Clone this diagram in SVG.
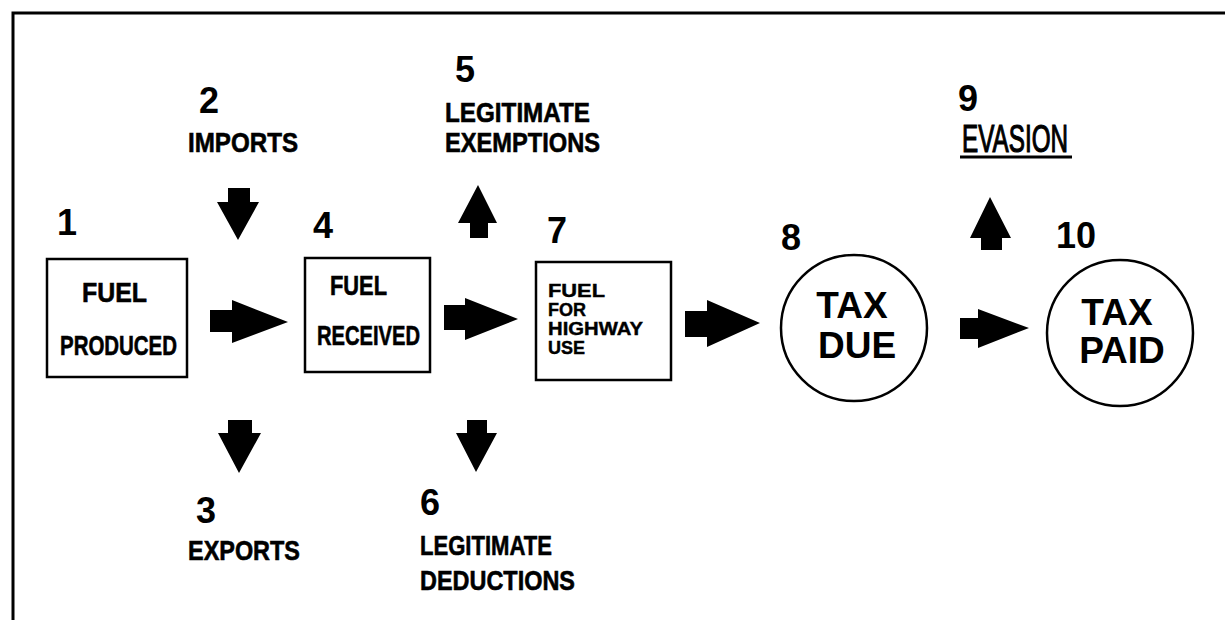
<svg xmlns="http://www.w3.org/2000/svg" width="1225" height="620" viewBox="0 0 1225 620">
<style>
  text { font-family: "Liberation Sans", Arial, sans-serif; fill: #000; }
  .num { font-size: 36px; font-weight: bold; text-anchor: middle; }
  .lbl { font-size: 28px; font-weight: bold; stroke: #000; stroke-width: 0.6; }
  .box { fill: #fff; stroke: #000; stroke-width: 2.5; }
  .circ { fill: #fff; stroke: #000; stroke-width: 2.5; }
  .arr { fill: #000; stroke: none; }
  .in { font-size: 28px; font-weight: bold; stroke: #000; stroke-width: 0.6; }
  .sm { font-size: 18px; font-weight: bold; stroke: #000; stroke-width: 0.4; }
  .big { font-size: 37px; font-weight: bold; text-anchor: middle; }
  .frame { stroke: #000; stroke-width: 3; fill: none; }
</style>
<rect x="0" y="0" width="1225" height="620" fill="#fff"/>
<path class="frame" d="M13,620 V13 H1225"/>

<g id="n1">
  <text class="num" x="67" y="235">1</text>
  <rect class="box" x="47" y="259" width="140" height="118"/>
  <text class="in" x="82" y="302" textLength="65" lengthAdjust="spacingAndGlyphs">FUEL</text>
  <text class="in" x="60" y="355" textLength="117" lengthAdjust="spacingAndGlyphs">PRODUCED</text>
</g>
<g id="n2">
  <text class="num" x="209" y="113">2</text>
  <text class="lbl" x="188" y="152" textLength="110" lengthAdjust="spacingAndGlyphs">IMPORTS</text>
</g>
<g id="n3">
  <text class="num" x="206" y="523">3</text>
  <text class="lbl" x="188" y="560" textLength="112" lengthAdjust="spacingAndGlyphs">EXPORTS</text>
</g>
<g id="n4">
  <text class="num" x="323" y="238">4</text>
  <rect class="box" x="305" y="258" width="125" height="114"/>
  <text class="in" x="330" y="295" font-size="25" textLength="57" lengthAdjust="spacingAndGlyphs">FUEL</text>
  <text class="in" x="317" y="345" textLength="103" lengthAdjust="spacingAndGlyphs">RECEIVED</text>
</g>
<g id="n5">
  <text class="num" x="465" y="82">5</text>
  <text class="lbl" x="445" y="122" textLength="145" lengthAdjust="spacingAndGlyphs">LEGITIMATE</text>
  <text class="lbl" x="445" y="152" textLength="155" lengthAdjust="spacingAndGlyphs">EXEMPTIONS</text>
</g>
<g id="n6">
  <text class="num" x="430" y="515">6</text>
  <text class="lbl" x="420" y="555" textLength="132" lengthAdjust="spacingAndGlyphs">LEGITIMATE</text>
  <text class="lbl" x="420" y="590" textLength="155" lengthAdjust="spacingAndGlyphs">DEDUCTIONS</text>
</g>
<g id="n7">
  <text class="num" x="557" y="243">7</text>
  <rect class="box" x="536" y="262" width="135" height="118"/>
  <text class="sm" x="548" y="297" textLength="57" lengthAdjust="spacingAndGlyphs">FUEL</text>
  <text class="sm" x="548" y="316">FOR</text>
  <text class="sm" x="548" y="335" textLength="95" lengthAdjust="spacingAndGlyphs">HIGHWAY</text>
  <text class="sm" x="548" y="354">USE</text>
</g>
<g id="n8">
  <text class="num" x="791" y="250">8</text>
  <circle class="circ" cx="854" cy="328" r="73"/>
  <text class="big" x="852" y="318">TAX</text>
  <text class="big" x="857" y="358">DUE</text>
</g>
<g id="n9">
  <text class="num" x="968" y="111">9</text>
  <text x="962" y="152" font-size="38" stroke="#000" stroke-width="1.2" textLength="106" lengthAdjust="spacingAndGlyphs">EVASION</text>
  <line x1="960" y1="157" x2="1072" y2="157" stroke="#000" stroke-width="3"/>
</g>
<g id="n10">
  <text class="num" x="1076" y="248">10</text>
  <circle class="circ" cx="1120" cy="333" r="73"/>
  <text class="big" x="1117" y="325">TAX</text>
  <text class="big" x="1122" y="363">PAID</text>
</g>

<g id="connectors">
  <polygon class="arr" points="210,310 232,310 232,300 288,322 232,343 232,332 210,332"/>
  <polygon class="arr" points="444,305 465,305 465,298 518,319 465,340 465,330 444,330"/>
  <polygon class="arr" points="685,311 707,311 707,300 760,323 707,347 707,337 685,337"/>
  <polygon class="arr" points="960,318 978,318 978,309 1029,328 978,348 978,339 960,339"/>
  <polygon class="arr" points="228,188 250,188 250,202 259,202 238,240 217,202 228,202"/>
  <polygon class="arr" points="478,185 497,223 488,223 488,238 470,238 470,223 458,223"/>
  <polygon class="arr" points="228,420 252,420 252,433 261,433 239,473 218,433 228,433"/>
  <polygon class="arr" points="467,420 487,420 487,433 497,433 476,472 456,433 467,433"/>
  <polygon class="arr" points="990,197 1011,238 1002,238 1002,250 981,250 981,238 970,238"/>
</g>
</svg>
